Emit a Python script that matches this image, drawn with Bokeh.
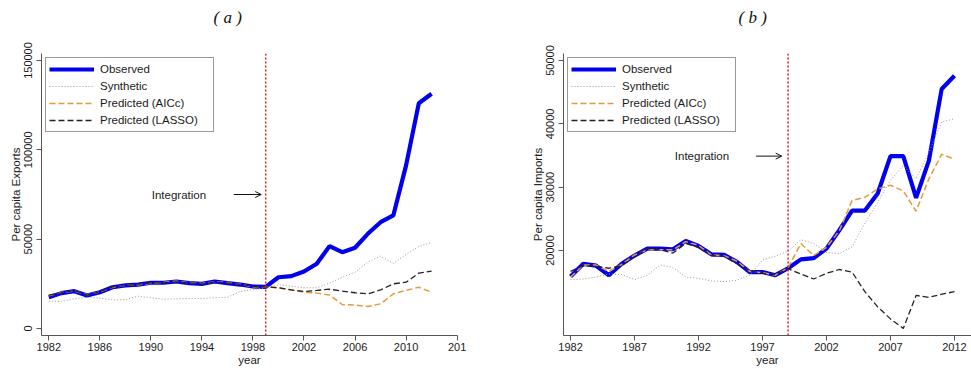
from bokeh.plotting import figure
from bokeh.layouts import row
from bokeh.models import (Range1d, FixedTicker, Span, Arrow, OpenHead, Label,
                          Legend, LegendItem, BasicTickFormatter, Title)
from bokeh.embed import file_html
from bokeh.resources import INLINE

years = list(range(1982, 2013))

# Panel (a): per capita exports
exp_observed = [17500, 19800, 20900, 18500, 20300, 23100, 24100, 24600, 25600, 25600,
                26300, 25400, 25000, 26300, 25400, 24600, 23500, 23300, 28700, 29300,
                31900, 36200, 46100, 42700, 45200, 53000, 59500, 63300, 91300, 126100, 131400]
exp_synthetic = [15300, 15100, 16600, 17500, 17000, 16000, 16200, 18100, 17200, 16400,
                 16600, 16800, 16800, 17200, 17500, 20700, 21800, 22800, 24400, 23700,
                 22800, 22800, 25400, 28700, 31500, 37100, 40500, 36400, 41400, 45900, 48200]
exp_aicc = [18300, 20100, 21000, 18900, 20500, 23000, 24200, 24500, 25300, 25800,
            26500, 25600, 25200, 26100, 25700, 24800, 23300, 23300, 22800, 21600,
            20300, 19800, 18800, 13400, 13200, 12300, 13800, 19400, 21300, 23100, 20300]
exp_lasso = [18700, 20000, 21200, 18700, 20600, 23300, 24000, 24800, 25500, 25500,
             26100, 25600, 24900, 26000, 25500, 24700, 23600, 23300, 22800, 21600,
             20700, 21300, 22000, 20900, 20000, 19400, 21600, 25000, 25900, 31000, 32100]

# Panel (b): per capita imports
imp_observed = [15900, 17900, 17600, 16100, 17900, 19200, 20300, 20300, 20200, 21500,
                20700, 19400, 19300, 18200, 16600, 16600, 16100, 17200, 18600, 18800,
                20300, 23200, 26300, 26300, 29000, 34900, 34900, 28300, 34200, 45500, 47600]
imp_synthetic = [15400, 15500, 15800, 16300, 16200, 15400, 16100, 17700, 17300, 15800,
                 15600, 15200, 15100, 15300, 16100, 18500, 19100, 19900, 21700, 21100,
                 19700, 19500, 20600, 24300, 27600, 31100, 33400, 31300, 35500, 40300, 40800]
imp_aicc = [15800, 17700, 17700, 16700, 17800, 19300, 20100, 20100, 20100, 21400,
            20800, 19300, 19200, 18300, 16700, 16500, 16100, 17300, 21100, 19200,
            20500, 23100, 27900, 28400, 29700, 30300, 29400, 26200, 31300, 35200, 34400]
imp_lasso = [16700, 17600, 17500, 17200, 17600, 19000, 20300, 20100, 19600, 21100,
             20500, 19200, 19100, 17900, 16800, 16400, 16200, 17100, 16300, 15500,
             16400, 17000, 16600, 13500, 11100, 9200, 7700, 12900, 12600, 13100, 13500]

series_names = ["Observed", "Synthetic", "Predicted (AICc)", "Predicted (LASSO)"]
integration_year = 1999

a_xticks = [1982, 1986, 1990, 1994, 1998, 2002, 2006, 2010, 2014]
a_yticks = [0, 50000, 100000, 150000]
b_xticks = [1982, 1987, 1992, 1997, 2002, 2007, 2012]
b_yticks = [20000, 30000, 40000, 50000]

FONT = "Liberation Sans"
TXT = "#1a1a1a"
AX = "#555555"


def panel(title, title_offset, ylabel, series, xr, yr, xticks, yticks, width,
          border_left, border_right, label_xy, arrow_x, overrides=None):
    p = figure(width=width, height=369, output_backend="svg", toolbar_location=None,
               title=None,
               x_range=Range1d(*xr), y_range=Range1d(*yr),
               min_border_left=border_left, min_border_right=border_right,
               min_border_top=53, min_border_bottom=34)
    p.outline_line_color = None
    p.grid.visible = False
    p.background_fill_color = "white"

    # spacer title (closest to the frame), then the real panel title above it
    p.add_layout(Title(text=" ", text_font_size="1px", standoff=22), "above")
    p.add_layout(Title(text=title, text_font="Liberation Serif",
                       text_font_style="italic", text_font_size="17px",
                       text_color="#111111", align="left", offset=title_offset,
                       vertical_align="top", standoff=0), "above")

    for ax in (p.xaxis[0], p.yaxis[0]):
        ax.axis_line_color = AX
        ax.major_tick_line_color = AX
        ax.major_tick_out = 5
        ax.major_tick_in = 0
        ax.minor_tick_line_color = None
        ax.major_label_text_font = FONT
        ax.major_label_text_font_size = "11px"
        ax.major_label_text_color = TXT
        ax.axis_label_text_font = FONT
        ax.axis_label_text_font_size = "11.5px"
        ax.axis_label_text_font_style = "normal"
        ax.axis_label_text_color = TXT
        ax.axis_label_standoff = 0
        ax.major_label_standoff = 2
    p.yaxis.major_label_standoff = 4
    p.xaxis.ticker = FixedTicker(ticks=xticks)
    p.yaxis.ticker = FixedTicker(ticks=yticks)
    p.yaxis.formatter = BasicTickFormatter(use_scientific=False)
    p.yaxis.major_label_orientation = "vertical"
    p.xaxis.axis_label = "year"
    p.yaxis.axis_label = ylabel
    if overrides:
        p.xaxis.major_label_overrides = overrides

    obs, syn, aic, las = series
    r_obs = p.line(years, obs, line_color="#0000ee", line_width=4.2)
    r_syn = p.line(years, syn, line_color="#999999", line_width=1, line_dash="1 2")
    r_aic = p.line(years, aic, line_color="#e8993a", line_width=1.5, line_dash="6 3")
    r_las = p.line(years, las, line_color="#222222", line_width=1.3, line_dash="6 3")

    p.add_layout(Span(location=integration_year, dimension="height",
                      line_color="#dd2222", line_width=1.5, line_dash="2 2"))

    p.add_layout(Label(x=label_xy[0], y=label_xy[1], text="Integration",
                       text_font=FONT, text_font_size="11.5px", text_color=TXT,
                       text_align="center", text_baseline="middle"))
    p.add_layout(Arrow(x_start=arrow_x[0], y_start=label_xy[1], x_end=arrow_x[1],
                       y_end=label_xy[1], line_color="#111111", line_width=1,
                       end=OpenHead(size=6, line_color="#111111", line_width=1)))

    legend = Legend(items=[LegendItem(label=n, renderers=[r]) for n, r in
                           zip(series_names, [r_obs, r_syn, r_aic, r_las])],
                    location="top_left")
    legend.margin = 4
    legend.padding = 3
    legend.spacing = 1
    legend.glyph_width = 45
    legend.glyph_height = 16
    legend.label_height = 16
    legend.label_width = 110
    legend.label_standoff = 6
    legend.label_text_font = FONT
    legend.label_text_font_size = "11.5px"
    legend.label_text_color = TXT
    legend.border_line_color = "#333333"
    legend.border_line_width = 1
    legend.background_fill_alpha = 1
    p.add_layout(legend)
    return p


pa = panel("( a )", 172, "Per capita Exports",
           (exp_observed, exp_synthetic, exp_aicc, exp_lasso),
           (1981.43, 2014.03), (-3918, 153918), a_xticks, a_yticks,
           width=480, border_left=41, border_right=23,
           label_xy=(1992.2, 75000), arrow_x=(1996.5, 1998.65),
           overrides={2014: "201"})

pb = panel("( b )", 175, "Per capita Imports",
           (imp_observed, imp_synthetic, imp_aicc, imp_lasso),
           (1981.45, 2013.33), (6579, 51105), b_xticks, b_yticks,
           width=491, border_left=83, border_right=0,
           label_xy=(1992.27, 34900), arrow_x=(1996.5, 1998.5))

layout = row(pa, pb, spacing=0)
open("out.html", "w").write(file_html(layout, INLINE))
